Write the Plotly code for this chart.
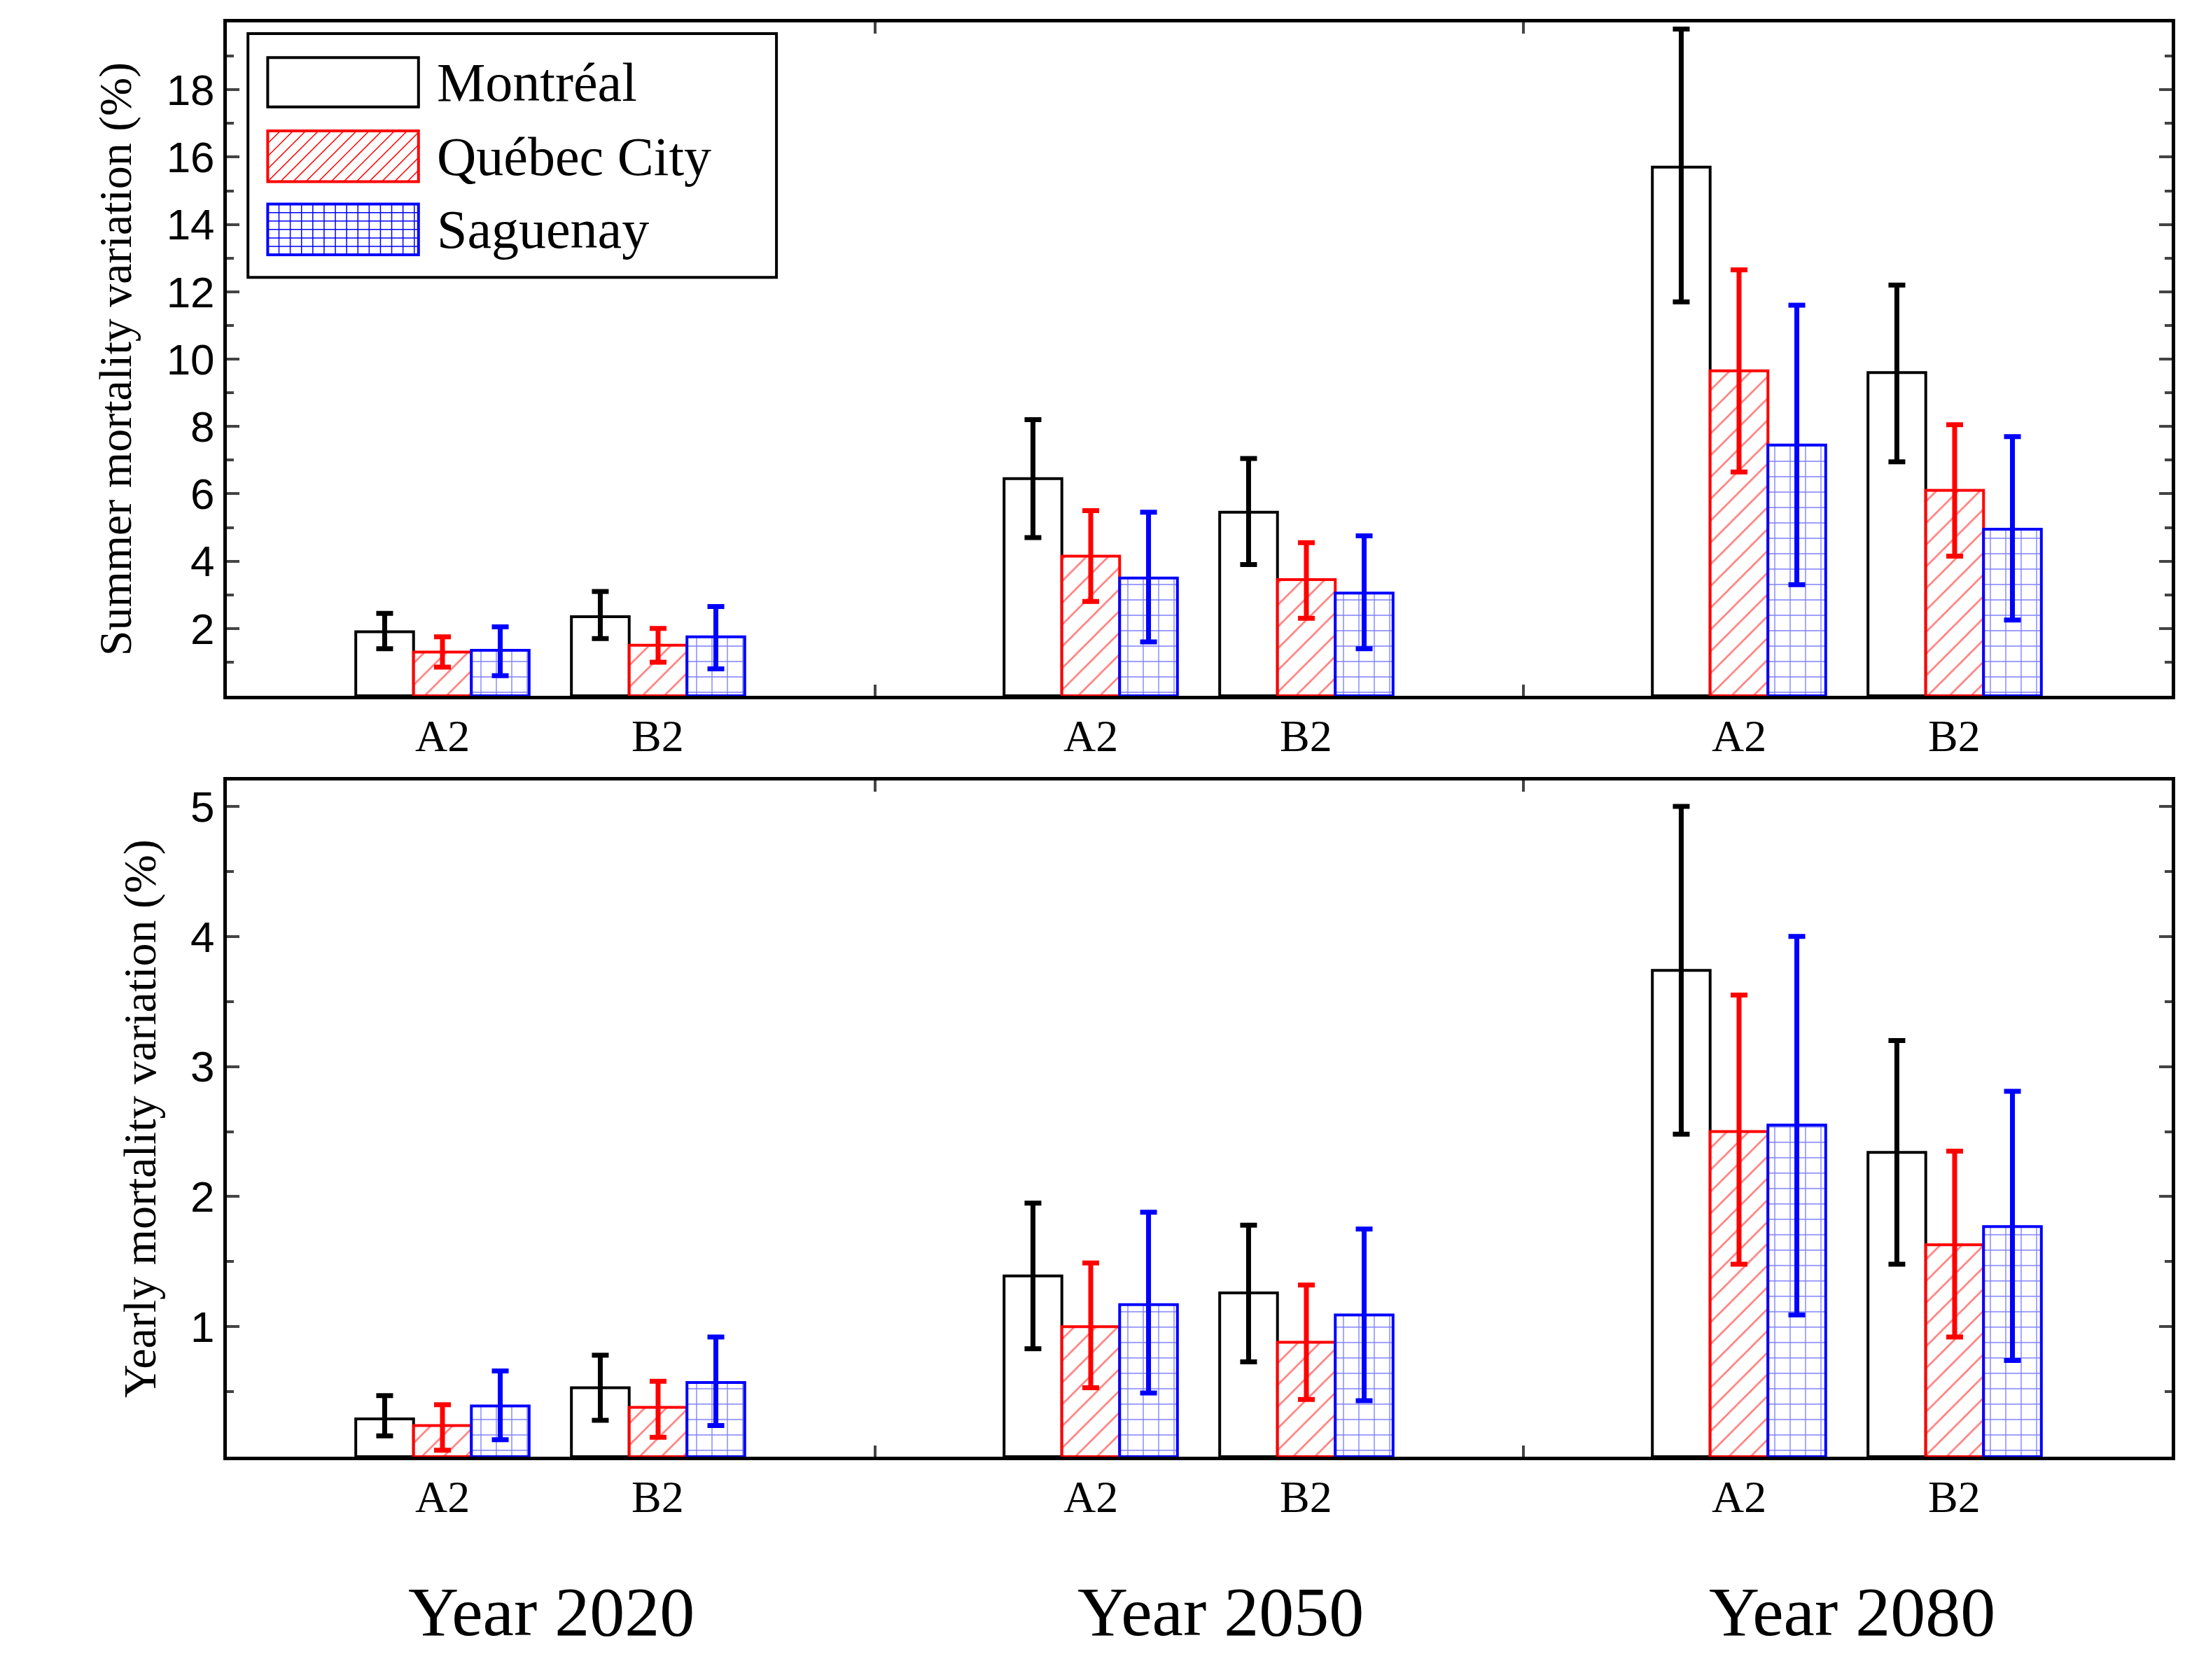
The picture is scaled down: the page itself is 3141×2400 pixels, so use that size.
import plotly.graph_objects as go

years = ["Year 2020", "Year 2050", "Year 2080"]
scenarios = ["A2", "B2"]
cities = ["Montréal", "Québec City", "Saguenay"]

# order: 2020 A2, 2020 B2, 2050 A2, 2050 B2, 2080 A2, 2080 B2
summer = {
    "Montréal":    [1.9, 2.35, 6.45, 5.45, 15.7, 9.6],
    "Québec City": [1.3, 1.5, 4.15, 3.45, 9.65, 6.1],
    "Saguenay":    [1.35, 1.75, 3.5, 3.05, 7.45, 4.95],
}
summer_lo = {
    "Montréal":    [1.4, 1.7, 4.7, 3.9, 11.7, 6.95],
    "Québec City": [0.85, 1.0, 2.8, 2.3, 6.65, 4.15],
    "Saguenay":    [0.6, 0.8, 1.6, 1.4, 3.3, 2.25],
}
summer_hi = {
    "Montréal":    [2.45, 3.1, 8.2, 7.05, 19.8, 12.2],
    "Québec City": [1.75, 2.0, 5.5, 4.55, 12.65, 8.05],
    "Saguenay":    [2.05, 2.65, 5.45, 4.75, 11.6, 7.7],
}
yearly = {
    "Montréal":    [0.29, 0.53, 1.39, 1.26, 3.74, 2.34],
    "Québec City": [0.24, 0.38, 1.0, 0.88, 2.5, 1.63],
    "Saguenay":    [0.39, 0.57, 1.17, 1.09, 2.55, 1.77],
}
yearly_lo = {
    "Montréal":    [0.16, 0.28, 0.83, 0.73, 2.48, 1.48],
    "Québec City": [0.05, 0.15, 0.53, 0.44, 1.48, 0.92],
    "Saguenay":    [0.13, 0.24, 0.49, 0.43, 1.09, 0.74],
}
yearly_hi = {
    "Montréal":    [0.47, 0.78, 1.95, 1.78, 5.0, 3.2],
    "Québec City": [0.4, 0.58, 1.49, 1.32, 3.55, 2.35],
    "Saguenay":    [0.66, 0.92, 1.88, 1.75, 4.0, 2.81],
}

# x positions (axis units)
centers = [310 + 460 * g + 153 * s for g in range(3) for s in range(2)]
labels = [sc for g in range(3) for sc in scenarios]

colors = {"Montréal": "black", "Québec City": "red", "Saguenay": "blue"}
patterns = {"Montréal": "", "Québec City": "/", "Saguenay": "+"}

fig = go.Figure()
for panel, (vals, lo, hi) in enumerate([(summer, summer_lo, summer_hi),
                                        (yearly, yearly_lo, yearly_hi)]):
    ax = "" if panel == 0 else "2"
    for c in cities:
        fig.add_trace(go.Bar(
            x=centers, y=vals[c], name=c, showlegend=False,
            xaxis="x" + ax, yaxis="y" + ax,
            marker=dict(color="white", line=dict(color=colors[c], width=4),
                        pattern=dict(shape=patterns[c], fgcolor=colors[c],
                                     bgcolor="white", size=22, solidity=0.12)),
            error_y=dict(type="data", symmetric=False,
                         array=[h - v for h, v in zip(hi[c], vals[c])],
                         arrayminus=[v - l for v, l in zip(vals[c], lo[c])],
                         color=colors[c], thickness=7, width=12),
        ))

font = "Liberation Serif, Times New Roman, serif"
xcommon = dict(range=[157, 1537], tickvals=[617, 1077], ticktext=["", ""],
               ticks="inside", ticklen=16, tickwidth=4, mirror="allticks",
               showline=True, linewidth=5, linecolor="black", showgrid=False,
               zeroline=False)
ycommon = dict(ticks="inside", ticklen=18, tickwidth=4, mirror="allticks",
               showline=True, linewidth=5, linecolor="black", showgrid=False,
               zeroline=False,
               tickfont=dict(size=62, family="Liberation Sans, Arial, sans-serif"),
               minor=dict(ticks="inside", ticklen=10, tickwidth=4))

fig.update_layout(
    width=3141, height=2400, plot_bgcolor="white", paper_bgcolor="white",
    font=dict(family=font, color="black", size=60),
    margin=dict(l=316, r=47, t=24, b=327),
    barmode="group", bargap=0.196, bargroupgap=0, showlegend=False,
    xaxis=dict(**xcommon, anchor="y"),
    xaxis2=dict(**xcommon, anchor="y2"),
    yaxis=dict(**ycommon, domain=[0.5305, 1], range=[0, 20],
               tickvals=list(range(2, 20, 2)),
               minor_tickvals=list(range(1, 20, 2)),
               title=dict(text="Summer mortality variation (%)", standoff=30,
                          font=dict(size=66))),
    yaxis2=dict(**ycommon, domain=[0, 0.4715], range=[0, 5.2],
                tickvals=[1, 2, 3, 4, 5],
                minor_tickvals=[0.5, 1.5, 2.5, 3.5, 4.5],
                title=dict(text="Yearly mortality variation (%)", standoff=30,
                           font=dict(size=66))),
)

for ax in ["", "2"]:
    for xc, lab in zip(centers, labels):
        fig.add_annotation(x=xc, y=0, xref="x" + ax, yref=f"y{ax} domain",
                           text=lab, showarrow=False, yanchor="top", yshift=-20,
                           font=dict(size=64))

for g, yr in enumerate(years):
    fig.add_annotation(x=[387, 862, 1310][g], y=-0.108, xref="x", yref="paper",
                       text=yr, showarrow=False, yanchor="middle",
                       font=dict(size=100))

# manual legend in the top panel (reference-pixel units converted to domain)
def dx(p):
    return (p - 157) / 1380

def dy(p):
    return (490 - p) / 478

def seg(x0, y0, x1, y1, color, w):
    fig.add_shape(type="line", xref="x domain", yref="y domain",
                  x0=dx(x0), y0=dy(y0), x1=dx(x1), y1=dy(y1),
                  line=dict(color=color, width=w))

fig.add_shape(type="rect", xref="x domain", yref="y domain",
              x0=dx(172), x1=dx(547), y0=dy(20), y1=dy(193),
              line=dict(color="black", width=4), fillcolor="white")
rows = [(37, 72), (89, 125), (141, 177)]
sx0, sx1 = 186, 293
for c, (r0, r1) in zip(cities, rows):
    col = colors[c]
    if patterns[c] == "/":
        step = 9
        k = sx0 - (r1 - r0)
        while k < sx1:
            # line from (k, r1) to (k + h, r0), clipped to box
            a0, b0 = k, r1
            a1, b1 = k + (r1 - r0), r0
            if a0 < sx0:
                b0 = r1 - (sx0 - a0); a0 = sx0
            if a1 > sx1:
                b1 = r0 + (a1 - sx1); a1 = sx1
            seg(a0, b0, a1, b1, col, 1.5)
            k += step
    elif patterns[c] == "+":
        v = sx0 + 8
        while v < sx1:
            seg(v, r0, v, r1, col, 1.5)
            v += 8
        h = r0 + 6
        while h < r1:
            seg(sx0, h, sx1, h, col, 1.5)
            h += 6
    fig.add_shape(type="rect", xref="x domain", yref="y domain",
                  x0=dx(sx0), x1=dx(sx1), y0=dy(r0), y1=dy(r1),
                  line=dict(color=col, width=4))
    fig.add_annotation(x=dx(305), y=dy((r0 + r1) / 2), xref="x domain",
                       yref="y domain", text=c, showarrow=False,
                       xanchor="left", yanchor="middle", font=dict(size=78))

fig.write_html("out.html")
